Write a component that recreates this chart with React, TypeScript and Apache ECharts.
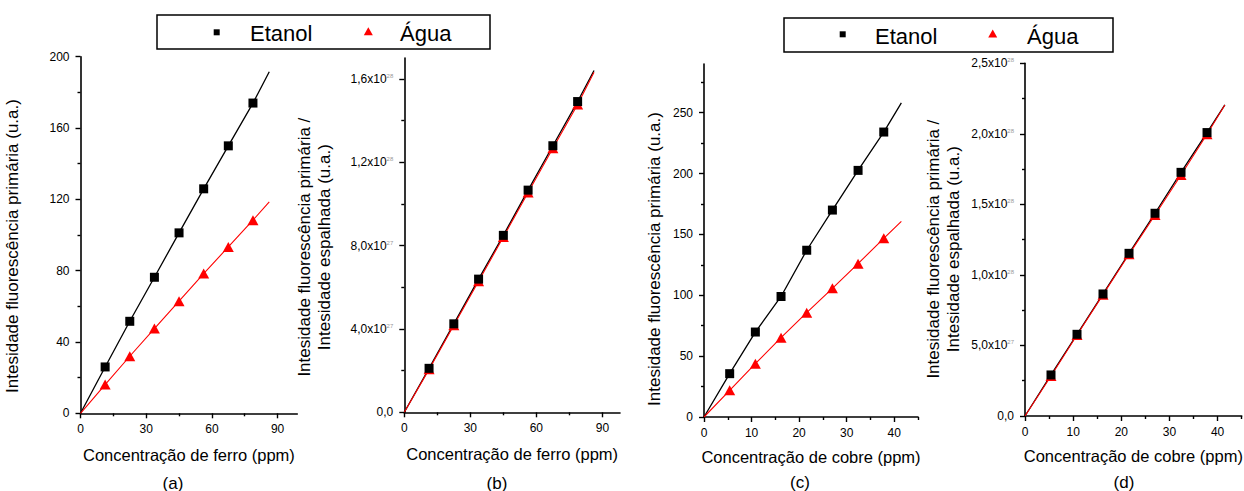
import React, { useEffect, useRef } from "react";
import * as echarts from "echarts";

// ---------- data ----------
const xFerro = [11.25, 22.5, 33.75, 45, 56.25, 67.5, 78.75];
const intEtanolFerro = [26, 51.6, 76.3, 101.2, 125.9, 150, 174];
const intAguaFerro = [16.1, 32, 47.5, 62.9, 78.4, 93.3, 108.3];
// ratio values in units of 10^28
const ratioEtanolFerro = [0.211, 0.4245, 0.639, 0.849, 1.066, 1.279, 1.491];
const ratioAguaFerro = [0.206, 0.418, 0.629, 0.841, 1.055, 1.267, 1.477];

const xCobre = [5.4, 10.8, 16.2, 21.6, 27.0, 32.4, 37.8];
const intEtanolCobre = [35.6, 69.8, 99, 137, 170, 202.6, 234.1];
const intAguaCobre = [21.9, 43.8, 65.2, 85.7, 105.7, 126, 146.8];
const ratioEtanolCobre = [0.291, 0.579, 0.865, 1.153, 1.437, 1.727, 2.009];
const ratioAguaCobre = [0.284, 0.574, 0.86, 1.146, 1.425, 1.708, 1.997];

// fitted-curve end points
const fitEndFerroX = 86.2;
const fitEndEtanolA = 191.6;
const fitEndAguaA = 118.6;
const fitEndEtanolB = 1.64;
const fitEndAguaB = 1.632;
const fitEndCobreX = 41.5;
const fitEndEtanolC = 258;
const fitEndAguaC = 160.7;
const fitEndEtanolD = 2.205;
const fitEndAguaD = 2.205;

// tick values
const ticksFerroX = [0, 30, 60, 90];
const minorFerroX = [15, 45, 75];
const ticksIntA = [0, 40, 80, 120, 160, 200];
const minorIntA = [20, 60, 100, 140, 180];
const ticksRatioB = [0, 0.4, 0.8, 1.2, 1.6];
const minorRatioB = [0.2, 0.6, 1.0, 1.4];
const ticksCobreX = [0, 10, 20, 30, 40];
const minorCobreX = [5, 15, 25, 35, 45];
const ticksIntC = [0, 50, 100, 150, 200, 250];
const minorIntC = [25, 75, 125, 175, 225, 275];
const ticksRatioD = [0, 0.5, 1.0, 1.5, 2.0, 2.5];
const minorRatioD = [0.25, 0.75, 1.25, 1.75, 2.25];

const seriesNames = ["Etanol", "Água"];
const panelLabels = ["(a)", "(b)", "(c)", "(d)"];
const xTitleFerro = "Concentração de ferro (ppm)";
const xTitleCobre = "Concentração de cobre (ppm)";
const yTitleInt = "Intesidade fluorescência primária (u.a.)";
const yTitleRatio = "Intesidade fluorescência primária /\nIntesidade espalhada (u.a.)";

const FONT = "'Liberation Sans', Arial, Helvetica, sans-serif";

const sciFormatter = (v: number) => {
  if (Math.abs(v) < 1e-9) return "0,0";
  if (v < 0.999) return (v * 10).toFixed(1).replace(".", ",") + "x10{sup|27}";
  return v.toFixed(1).replace(".", ",") + "x10{sup|28}";
};

type PanelCfg = {
  grid: { left: number; top: number; width: number; height: number };
  xMax: number;
  yMax: number;
  xTicks: number[];
  xMinor: number[];
  yTicks: number[];
  yMinor: number[];
  xName: string;
  yName: string;
  xNameGap: number;
  yNameGap: number;
  yNamePad: number;
  sci: boolean;
  x: number[];
  yEtanol: number[];
  yAgua: number[];
  fitX: number;
  fitEtanol: number;
  fitAgua: number;
};

const panels: PanelCfg[] = [
  {
    grid: { left: 80.5, top: 56.7, width: 216.8, height: 356.6 },
    xMax: 99, yMax: 200,
    xTicks: ticksFerroX, xMinor: minorFerroX, yTicks: ticksIntA, yMinor: minorIntA,
    xName: xTitleFerro, yName: yTitleInt, xNameGap: 33, yNameGap: 58, yNamePad: 22, sci: false,
    x: xFerro, yEtanol: intEtanolFerro, yAgua: intAguaFerro,
    fitX: fitEndFerroX, fitEtanol: fitEndEtanolA, fitAgua: fitEndAguaA,
  },
  {
    grid: { left: 404.3, top: 58, width: 215.7, height: 354.3 },
    xMax: 98, yMax: 1.7,
    xTicks: ticksFerroX, xMinor: minorFerroX, yTicks: ticksRatioB, yMinor: minorRatioB,
    xName: xTitleFerro, yName: yTitleRatio, xNameGap: 33, yNameGap: 70, yNamePad: 24, sci: true,
    x: xFerro, yEtanol: ratioEtanolFerro, yAgua: ratioAguaFerro,
    fitX: fitEndFerroX, fitEtanol: fitEndEtanolB, fitAgua: fitEndAguaB,
  },
  {
    grid: { left: 704, top: 64, width: 214, height: 353 },
    xMax: 45, yMax: 290,
    xTicks: ticksCobreX, xMinor: minorCobreX, yTicks: ticksIntC, yMinor: minorIntC,
    xName: xTitleCobre, yName: yTitleInt, xNameGap: 31, yNameGap: 40, yNamePad: 37, sci: false,
    x: xCobre, yEtanol: intEtanolCobre, yAgua: intAguaCobre,
    fitX: fitEndCobreX, fitEtanol: fitEndEtanolC, fitAgua: fitEndAguaC,
  },
  {
    grid: { left: 1025, top: 63.3, width: 216.7, height: 352.7 },
    xMax: 45, yMax: 2.5,
    xTicks: ticksCobreX, xMinor: minorCobreX, yTicks: ticksRatioD, yMinor: minorRatioD,
    xName: xTitleCobre, yName: yTitleRatio, xNameGap: 31, yNameGap: 62, yNamePad: 19, sci: true,
    x: xCobre, yEtanol: ratioEtanolCobre, yAgua: ratioAguaCobre,
    fitX: fitEndCobreX, fitEtanol: fitEndEtanolD, fitAgua: fitEndAguaD,
  },
];

const labelPos = [
  [173, 483],
  [497, 483],
  [800, 482],
  [1124, 482],
];

function buildOption() {
  const grid: any[] = [];
  const xAxis: any[] = [];
  const yAxis: any[] = [];
  const series: any[] = [];

  panels.forEach((p, i) => {
    grid.push({ ...p.grid, containLabel: false, outerBoundsMode: "none" });
    const axisLine = { onZero: false, lineStyle: { color: "#000", width: 1.6 } };
    const xi = xAxis.length;
    xAxis.push({
      type: "value", gridIndex: i, min: 0, max: p.xMax, position: "bottom",
      axisLine, splitLine: { show: false },
      axisTick: { customValues: p.xTicks, length: 5, lineStyle: { color: "#000", width: 1.4 } },
      axisLabel: { customValues: p.xTicks, margin: 10, fontSize: 12, color: "#000", fontFamily: FONT },
      name: p.xName, nameLocation: "middle", nameGap: p.xNameGap,
      nameTextStyle: { fontSize: 16.5, color: "#000", fontFamily: FONT },
    });
    xAxis.push({
      type: "value", gridIndex: i, min: 0, max: p.xMax, position: "bottom",
      axisLine: { show: false, onZero: false }, splitLine: { show: false },
      axisTick: { customValues: p.xMinor, length: 3, lineStyle: { color: "#000", width: 1.4 } },
      axisLabel: { show: false },
    });
    const yi = yAxis.length;
    yAxis.push({
      type: "value", gridIndex: i, min: 0, max: p.yMax, position: "left",
      axisLine, splitLine: { show: false },
      axisTick: { customValues: p.yTicks, length: 5, lineStyle: { color: "#000", width: 1.4 } },
      axisLabel: {
        customValues: p.yTicks, margin: 11, fontSize: 12, color: "#000", fontFamily: FONT,
        formatter: p.sci ? sciFormatter : (v: number) => String(v),
        rich: p.sci
          ? { sup: { fontSize: 6, color: "#999", verticalAlign: "top", fontFamily: FONT } }
          : undefined,
      },
      name: p.yName, nameLocation: "middle", nameGap: p.yNameGap, nameRotate: 90,
      nameTextStyle: {
        fontSize: 17, color: "#000", fontFamily: FONT, lineHeight: 20,
        padding: [0, p.yNamePad, 0, 0],
      },
    });
    yAxis.push({
      type: "value", gridIndex: i, min: 0, max: p.yMax, position: "left",
      axisLine: { show: false, onZero: false }, splitLine: { show: false },
      axisTick: { customValues: p.yMinor, length: 3, lineStyle: { color: "#000", width: 1.4 } },
      axisLabel: { show: false },
    });

    const pts = (ys: number[]) => p.x.map((x, k) => [x, ys[k]]);
    const fit = (ys: number[], end: number) => [[0, 0], ...pts(ys), [p.fitX, end]];

    series.push({
      type: "line", name: seriesNames[0], xAxisIndex: xi, yAxisIndex: yi,
      data: fit(p.yEtanol, p.fitEtanol), showSymbol: false, symbol: "none",
      lineStyle: { color: "#000", width: 1.3 }, z: 2,
    });
    series.push({
      type: "line", name: seriesNames[1], xAxisIndex: xi, yAxisIndex: yi,
      data: fit(p.yAgua, p.fitAgua), showSymbol: false, symbol: "none",
      lineStyle: { color: "#ff0000", width: 1.1 }, z: 3,
    });
    series.push({
      type: "scatter", name: seriesNames[1], xAxisIndex: xi, yAxisIndex: yi,
      data: pts(p.yAgua), symbol: "triangle", symbolSize: [11, 10],
      itemStyle: { color: "#ff0000", opacity: 1 }, z: 4,
    });
    series.push({
      type: "scatter", name: seriesNames[0], xAxisIndex: xi, yAxisIndex: yi,
      data: pts(p.yEtanol), symbol: "rect", symbolSize: [9, 9],
      itemStyle: { color: "#000", opacity: 1 }, z: 5,
    });
  });

  const legendBox = (x: number, y: number, w: number, h: number, sq: number[], tri: number[], t1: number, t2: number) => ({
    type: "group",
    children: [
      { type: "rect", shape: { x, y, width: w, height: h }, style: { fill: "#fff", stroke: "#000", lineWidth: 1.5 } },
      { type: "rect", shape: { x: sq[0] - 3, y: sq[1] - 3, width: 6, height: 6 }, style: { fill: "#000" } },
      {
        type: "polygon",
        shape: { points: [[tri[0], tri[1] - 4.5], [tri[0] + 4.5, tri[1] + 3.5], [tri[0] - 4.5, tri[1] + 3.5]] },
        style: { fill: "#ff0000" },
      },
      { type: "text", x: t1, y: y + h / 2 + 1, style: { text: seriesNames[0], fontSize: 22, fontFamily: FONT, fill: "#000", verticalAlign: "middle" } },
      { type: "text", x: t2, y: y + h / 2 + 1, style: { text: seriesNames[1], fontSize: 22, fontFamily: FONT, fill: "#000", verticalAlign: "middle" } },
    ],
  });

  const graphic: any[] = [
    legendBox(157, 15, 333, 34, [216.7, 32.3], [368.3, 31.7], 250, 400),
    legendBox(784, 18, 329, 34, [842.7, 34.3], [992.7, 34], 875, 1027),
    ...panelLabels.map((t, i) => ({
      type: "text", x: labelPos[i][0], y: labelPos[i][1],
      style: { text: t, fontSize: 17, fontFamily: FONT, fill: "#000", align: "center", verticalAlign: "middle" },
    })),
  ];

  return {
    animation: false,
    backgroundColor: "#fff",
    textStyle: { fontFamily: FONT },
    grid, xAxis, yAxis, series, graphic,
  };
}

export default function App() {
  const ref = useRef<HTMLDivElement>(null);
  useEffect(() => {
    if (!ref.current) return;
    const chart = echarts.init(ref.current, undefined, { renderer: "svg" });
    chart.setOption(buildOption() as any);
    return () => chart.dispose();
  }, []);
  return (
    <div
      ref={ref}
      style={{ position: "absolute", left: 0, top: 0, width: 1244, height: 491, background: "#fff" }}
    />
  );
}
